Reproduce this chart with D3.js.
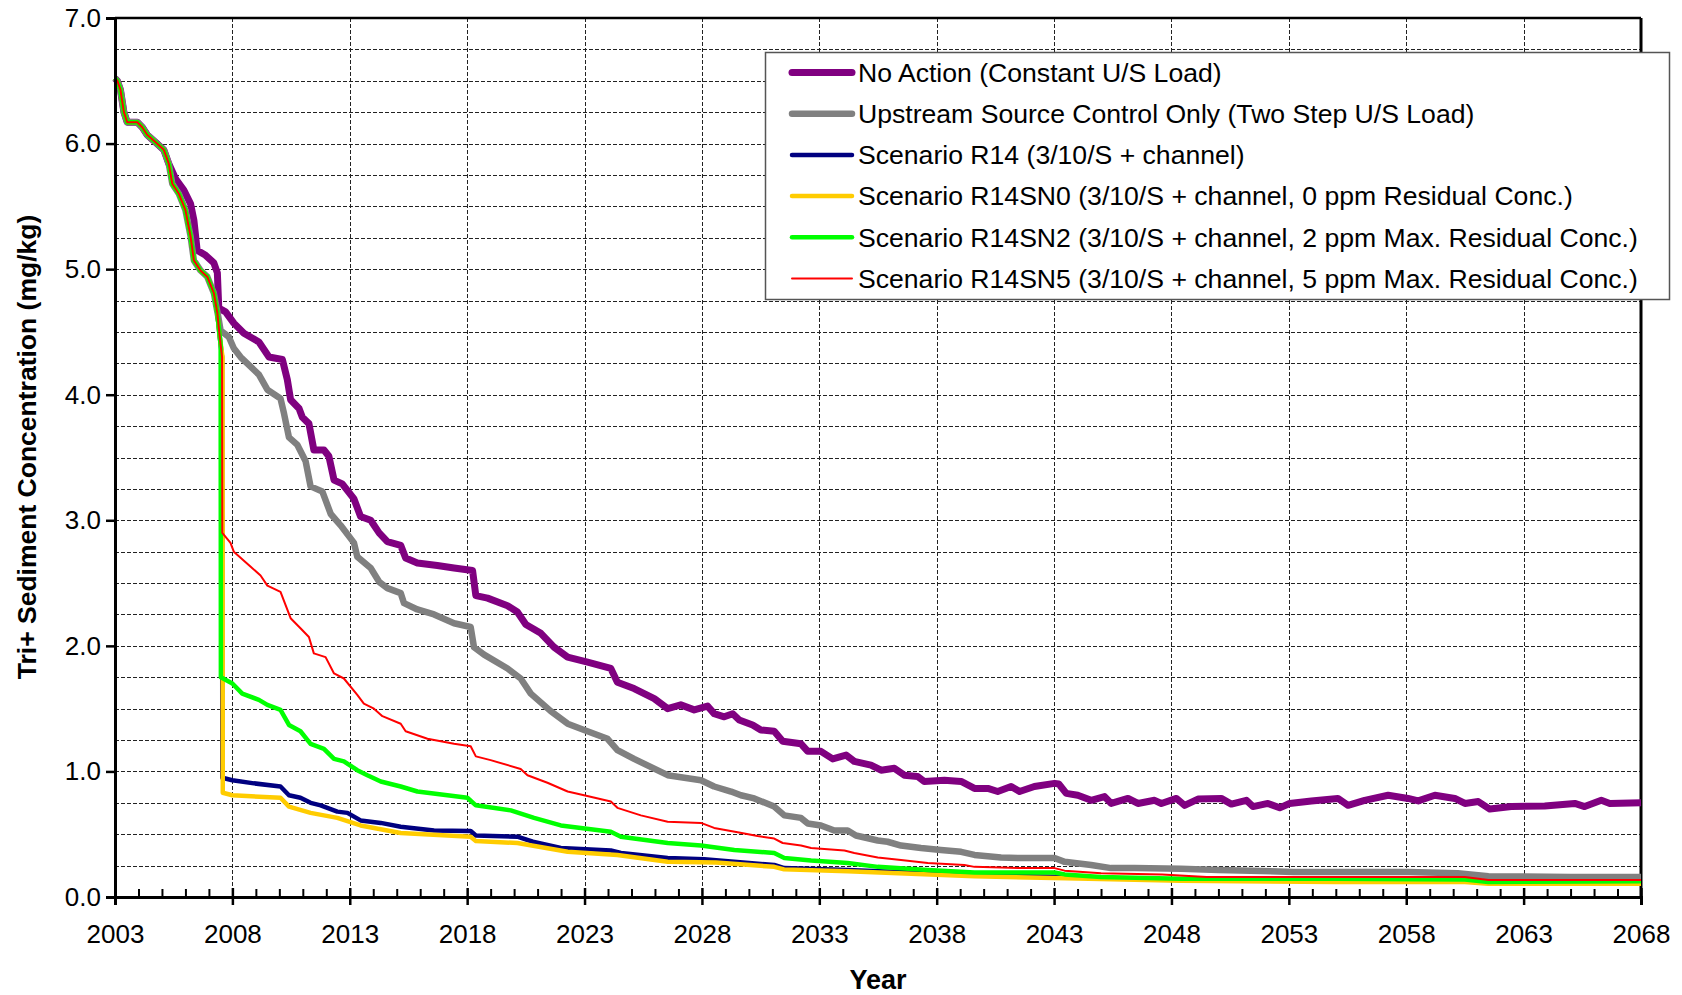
<!DOCTYPE html>
<html><head><meta charset="utf-8">
<script src="https://cdn.jsdelivr.net/npm/d3@7"></script>
<style>
body{margin:0;background:#fff}
svg{display:block}
text{font-family:Arial,"Liberation Sans",sans-serif}
</style>
</head><body>
<svg id="chart" width="1682" height="995"></svg>
<script>
// ---------- data ----------
const xTickYears = [2003,2008,2013,2018,2023,2028,2033,2038,2043,2048,2053,2058,2063,2068];
const yTickValues = [0,1,2,3,4,5,6,7];
const seriesNames = [
  "No Action (Constant U/S Load)",
  "Upstream Source Control Only (Two Step U/S Load)",
  "Scenario R14 (3/10/S + channel)",
  "Scenario R14SN0 (3/10/S + channel, 0 ppm Residual Conc.)",
  "Scenario R14SN2 (3/10/S + channel, 2 ppm Max. Residual Conc.)",
  "Scenario R14SN5 (3/10/S + channel, 5 ppm Max. Residual Conc.)"
];
const seriesColors = ["#800080","#808080","#000080","#FFCC00","#00FF00","#FF0000"];

// shared early record (all runs identical before remediation)
const initialDecline = [[2003.0,6.52],[2003.1,6.50],[2003.23,6.43],[2003.38,6.25],[2003.52,6.17],[2003.95,6.17],[2004.16,6.13],[2004.37,6.07],[2004.73,6.01],[2005.08,5.95],[2005.29,5.84],[2005.44,5.68],[2005.72,5.60],[2006.0,5.47],[2006.22,5.26],[2006.36,5.07],[2006.64,4.99],[2006.93,4.94],[2007.21,4.81]];

const noActionTail = [[2005.58,5.72],[2005.93,5.63],[2006.22,5.52],[2006.36,5.39],[2006.5,5.15],[2006.86,5.11],[2007.21,5.05],[2007.36,4.97],[2007.42,4.69],[2007.71,4.66],[2008.06,4.57],[2008.49,4.49],[2009.13,4.42],[2009.56,4.30],[2010.13,4.28],[2010.34,4.12],[2010.48,3.96],[2010.84,3.89],[2010.98,3.82],[2011.26,3.77],[2011.47,3.56],[2011.9,3.56],[2012.11,3.51],[2012.33,3.32],[2012.68,3.29],[2013.18,3.17],[2013.46,3.03],[2013.89,3.00],[2014.25,2.90],[2014.6,2.83],[2015.17,2.80],[2015.38,2.70],[2015.88,2.66],[2016.73,2.64],[2017.44,2.62],[2018.23,2.60],[2018.37,2.40],[2018.87,2.38],[2019.72,2.32],[2020.14,2.27],[2020.5,2.17],[2021.14,2.10],[2021.7,1.99],[2022.28,1.91],[2023.13,1.87],[2024.12,1.82],[2024.4,1.71],[2025.11,1.66],[2025.97,1.58],[2026.54,1.50],[2027.1,1.53],[2027.67,1.49],[2028.24,1.52],[2028.52,1.46],[2028.95,1.435],[2029.31,1.46],[2029.59,1.41],[2030.16,1.37],[2030.51,1.33],[2031.08,1.32],[2031.44,1.24],[2032.22,1.22],[2032.51,1.16],[2033.07,1.16],[2033.57,1.10],[2034.14,1.13],[2034.49,1.08],[2035.2,1.05],[2035.63,1.01],[2036.2,1.025],[2036.62,0.97],[2037.19,0.96],[2037.47,0.92],[2038.33,0.93],[2039.04,0.92],[2039.61,0.865],[2040.18,0.865],[2040.6,0.84],[2041.17,0.88],[2041.53,0.84],[2042.16,0.88],[2043.02,0.905],[2043.2,0.90],[2043.52,0.825],[2044.01,0.81],[2044.58,0.77],[2045.15,0.80],[2045.43,0.745],[2046.15,0.785],[2046.57,0.745],[2047.28,0.77],[2047.57,0.745],[2048.21,0.785],[2048.56,0.73],[2049.13,0.78],[2050.12,0.785],[2050.55,0.74],[2051.19,0.77],[2051.47,0.72],[2052.11,0.745],[2052.61,0.71],[2053.03,0.745],[2053.96,0.765],[2055.09,0.785],[2055.52,0.73],[2056.23,0.77],[2057.23,0.81],[2058.08,0.785],[2058.51,0.765],[2059.22,0.81],[2060.07,0.785],[2060.5,0.745],[2061.07,0.76],[2061.56,0.70],[2062.48,0.72],[2063.9,0.725],[2065.18,0.745],[2065.6,0.72],[2066.31,0.77],[2066.67,0.745],[2068,0.75]];

const upstreamTail = [[2007.4,4.62],[2007.5,4.51],[2007.85,4.46],[2008.06,4.37],[2008.35,4.30],[2009.13,4.16],[2009.49,4.04],[2010.05,3.97],[2010.2,3.85],[2010.41,3.66],[2010.77,3.60],[2011.12,3.47],[2011.33,3.27],[2011.83,3.23],[2012.19,3.05],[2012.61,2.96],[2013.18,2.82],[2013.32,2.71],[2013.89,2.62],[2014.25,2.51],[2014.6,2.46],[2015.17,2.42],[2015.31,2.34],[2015.88,2.29],[2016.59,2.25],[2017.44,2.18],[2018.15,2.15],[2018.29,1.99],[2018.72,1.93],[2019.72,1.82],[2020.28,1.74],[2020.71,1.62],[2021.56,1.48],[2022.28,1.38],[2022.98,1.33],[2023.98,1.26],[2024.4,1.17],[2025.11,1.10],[2026.54,0.97],[2027.96,0.93],[2028.52,0.88],[2029.24,0.84],[2029.66,0.81],[2030.23,0.785],[2031.08,0.72],[2031.51,0.65],[2032.22,0.63],[2032.51,0.585],[2033.07,0.57],[2033.64,0.53],[2034.21,0.53],[2034.56,0.49],[2035.49,0.45],[2035.91,0.44],[2036.48,0.41],[2037.33,0.39],[2038.18,0.375],[2039.04,0.36],[2039.61,0.335],[2040.74,0.315],[2041.46,0.31],[2043.02,0.31],[2043.45,0.28],[2044.58,0.255],[2045.43,0.23],[2046.43,0.23],[2048.4,0.225],[2050.0,0.215],[2053.2,0.20],[2058.1,0.20],[2060.2,0.19],[2061.5,0.165],[2065.0,0.16],[2068,0.16]];

const r14Tail = [[2007.36,4.65],[2007.45,4.48],[2007.56,4.30],[2007.57,0.95],[2008.0,0.93],[2008.92,0.905],[2010.05,0.88],[2010.41,0.81],[2010.9,0.79],[2011.33,0.75],[2011.76,0.73],[2012.47,0.68],[2012.9,0.67],[2013.46,0.61],[2014.32,0.59],[2015.17,0.56],[2016.59,0.53],[2018.15,0.525],[2018.37,0.49],[2020.14,0.48],[2020.8,0.44],[2021.99,0.39],[2024.12,0.37],[2024.55,0.35],[2026.54,0.31],[2028.1,0.30],[2031.08,0.255],[2031.51,0.23],[2034.21,0.215],[2039.61,0.175],[2043.5,0.16],[2048.4,0.135],[2055.0,0.13],[2060.5,0.13],[2061.5,0.115],[2068,0.115]];

const r14sn0Tail = [[2007.36,4.65],[2007.45,4.48],[2007.58,4.30],[2007.59,0.83],[2008.0,0.81],[2010.05,0.79],[2010.41,0.72],[2011.33,0.67],[2012.47,0.63],[2013.46,0.57],[2015.17,0.51],[2018.15,0.48],[2018.37,0.445],[2020.14,0.43],[2022.28,0.36],[2024.4,0.335],[2026.54,0.28],[2028.6,0.275],[2031.08,0.24],[2031.5,0.22],[2034.21,0.205],[2039.61,0.165],[2043.5,0.15],[2048.4,0.13],[2055.0,0.12],[2060.5,0.12],[2061.5,0.105],[2068,0.105]];

const r14sn2Tail = [[2007.36,4.65],[2007.45,4.48],[2007.5,4.40],[2007.51,1.75],[2008.0,1.70],[2008.42,1.62],[2009.13,1.57],[2009.49,1.53],[2010.05,1.49],[2010.41,1.37],[2010.9,1.32],[2011.33,1.22],[2011.9,1.18],[2012.33,1.10],[2012.75,1.08],[2013.32,1.01],[2013.75,0.97],[2014.32,0.92],[2015.17,0.88],[2015.88,0.84],[2018.01,0.79],[2018.37,0.73],[2019.86,0.69],[2020.85,0.63],[2021.99,0.57],[2024.12,0.52],[2024.55,0.48],[2026.54,0.43],[2027.96,0.41],[2029.38,0.375],[2031.08,0.35],[2031.51,0.31],[2032.65,0.29],[2034.21,0.27],[2035.49,0.24],[2037.62,0.215],[2039.61,0.195],[2043.02,0.195],[2043.45,0.18],[2045.0,0.16],[2048.4,0.145],[2055.0,0.145],[2060.5,0.14],[2061.5,0.12],[2068,0.125]];

const r14sn5Tail = [[2007.36,4.65],[2007.45,4.48],[2007.56,4.30],[2007.57,2.90],[2007.92,2.82],[2008.06,2.75],[2008.78,2.63],[2009.2,2.56],[2009.49,2.48],[2010.05,2.43],[2010.48,2.22],[2010.9,2.14],[2011.26,2.07],[2011.47,1.94],[2011.97,1.91],[2012.33,1.78],[2012.75,1.74],[2013.32,1.61],[2013.6,1.54],[2014.03,1.50],[2014.39,1.44],[2015.17,1.38],[2015.38,1.32],[2016.31,1.26],[2017.44,1.22],[2018.15,1.20],[2018.37,1.12],[2019.0,1.09],[2020.28,1.02],[2020.57,0.97],[2021.42,0.91],[2022.28,0.84],[2022.98,0.81],[2024.12,0.76],[2024.4,0.71],[2025.4,0.65],[2026.54,0.60],[2027.96,0.59],[2028.52,0.55],[2029.52,0.515],[2030.37,0.485],[2031.08,0.465],[2031.44,0.43],[2032.22,0.41],[2032.65,0.39],[2034.07,0.37],[2034.49,0.35],[2035.49,0.315],[2036.48,0.295],[2037.62,0.27],[2039.18,0.255],[2039.61,0.24],[2041.46,0.23],[2043.02,0.23],[2043.45,0.21],[2045.0,0.19],[2047.6,0.18],[2049.5,0.16],[2055.0,0.16],[2060.5,0.16],[2061.5,0.135],[2068,0.135]];

const noAction = initialDecline.filter(d => d[0] <= 2005.3).concat(noActionTail);
const upstream = initialDecline.concat(upstreamTail);
const r14 = initialDecline.concat(r14Tail);
const r14sn0 = initialDecline.concat(r14sn0Tail);
const r14sn2 = initialDecline.concat(r14sn2Tail);
const r14sn5 = initialDecline.concat(r14sn5Tail);
const seriesData = [noAction, upstream, r14, r14sn0, r14sn2, r14sn5];
const seriesWidths = [7, 6.5, 4.5, 4.5, 4.5, 2];

// ---------- layout ----------
const FONT = 'Arial,"Liberation Sans",sans-serif';
const svg = d3.select("#chart");
const L = 115, R = 1641, T = 18, B = 897;
const x = d3.scaleLinear().domain([2003, 2068]).range([L, R]);
const y = d3.scaleLinear().domain([0, 7]).range([B, T]);

// gridlines
const gridY = d3.range(1, 28).map(i => i * 0.25);
const gridX = xTickYears.slice(1, -1);
const grid = svg.append("g");
grid.selectAll("line.h").data(gridY).join("line")
  .attr("x1", L).attr("x2", R).attr("y1", d => Math.round(y(d)) + 0.5).attr("y2", d => Math.round(y(d)) + 0.5)
  .attr("stroke", "#222").attr("stroke-width", 1).attr("stroke-dasharray", "4,2");
grid.selectAll("line.v").data(gridX).join("line")
  .attr("y1", T).attr("y2", B).attr("x1", d => Math.round(x(d)) + 0.5).attr("x2", d => Math.round(x(d)) + 0.5)
  .attr("stroke", "#222").attr("stroke-width", 1).attr("stroke-dasharray", "4,2");

// frame top/right
svg.append("line").attr("x1", L).attr("x2", R).attr("y1", T).attr("y2", T).attr("stroke", "#000").attr("stroke-width", 2.5);
svg.append("line").attr("x1", R).attr("x2", R).attr("y1", T).attr("y2", B).attr("stroke", "#000").attr("stroke-width", 3);

// series lines
const line = d3.line().x(d => x(d[0])).y(d => y(d[1])).curve(d3.curveLinear);
svg.append("g").selectAll("path").data(seriesData).join("path")
  .attr("d", d => line(d))
  .attr("fill", "none")
  .attr("stroke", (d, i) => seriesColors[i])
  .attr("stroke-width", (d, i) => seriesWidths[i])
  .attr("stroke-linejoin", "round")
  .attr("stroke-linecap", "butt");

// y axis
const yAxis = d3.axisLeft(y).tickValues(yTickValues).tickFormat(d3.format(".1f")).tickSize(9).tickPadding(5);
const gy = svg.append("g").attr("transform", `translate(${L},0)`).call(yAxis);
gy.select(".domain").attr("stroke", "#000").attr("stroke-width", 3);
gy.selectAll(".tick line").attr("stroke", "#000").attr("stroke-width", 2.5);
gy.selectAll(".tick text").attr("font-size", 26).attr("fill", "#000").attr("font-family", FONT);

// x axis minor ticks (every year, pointing up)
const minorYears = d3.range(2003, 2069).filter(yr => !xTickYears.includes(yr));
const gxm = svg.append("g").attr("transform", `translate(0,${B})`)
  .call(d3.axisBottom(x).tickValues(minorYears).tickSize(-8).tickFormat(""));
gxm.select(".domain").remove();
gxm.selectAll(".tick line").attr("stroke", "#000").attr("stroke-width", 2);

// x axis major
const xAxis = d3.axisBottom(x).tickValues(xTickYears).tickFormat(d3.format("d")).tickSize(8).tickPadding(20);
const gx = svg.append("g").attr("transform", `translate(0,${B})`).call(xAxis);
gx.select(".domain").attr("stroke", "#000").attr("stroke-width", 3);
gx.selectAll(".tick line").attr("stroke", "#000").attr("stroke-width", 2.5).attr("y1", -9);
gx.selectAll(".tick text").attr("font-size", 26).attr("fill", "#000").attr("font-family", FONT);

// axis titles
svg.append("text").attr("x", (L + R) / 2).attr("y", 989).attr("text-anchor", "middle")
  .attr("font-size", 27).attr("font-weight", "bold").attr("font-family", FONT).text("Year");
svg.append("text").attr("transform", "translate(36,447) rotate(-90)").attr("text-anchor", "middle")
  .attr("font-size", 26.5).attr("font-weight", "bold").attr("font-family", FONT).text("Tri+ Sediment Concentration (mg/kg)");

// legend
const lg = svg.append("g");
lg.append("rect").attr("x", 765.5).attr("y", 52.5).attr("width", 904).attr("height", 247)
  .attr("fill", "#fff").attr("stroke", "#555").attr("stroke-width", 1.5);
const rowY = i => 72.5 + i * 41.2;
seriesNames.forEach((name, i) => {
  lg.append("line").attr("x1", 792).attr("x2", 852).attr("y1", rowY(i)).attr("y2", rowY(i))
    .attr("stroke", seriesColors[i]).attr("stroke-width", seriesWidths[i]).attr("stroke-linecap", "round");
  lg.append("text").attr("x", 858).attr("y", rowY(i)).attr("dy", "0.35em")
    .attr("font-size", 26.6).attr("fill", "#000").attr("font-family", FONT).text(name);
});
</script>
</body></html>
